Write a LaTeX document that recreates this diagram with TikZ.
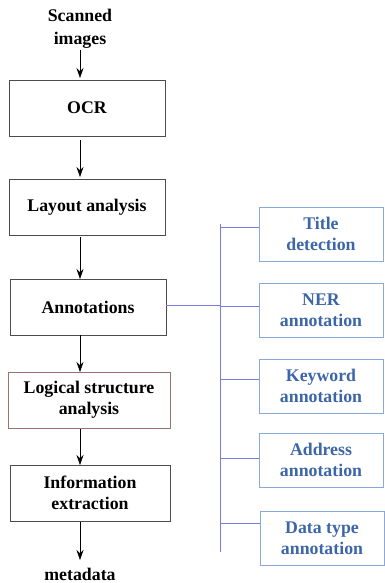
\documentclass[tikz,border=0pt]{standalone}
\usepackage{fontspec}
\setmainfont{Liberation Serif}
\usetikzlibrary{arrows.meta}

\definecolor{boxblue}{HTML}{8AA8D8}
\definecolor{textblue}{HTML}{3C66A8}
\definecolor{lineblue}{HTML}{7B7BE8}
\definecolor{boxbrown}{HTML}{9A7272}

\begin{document}
\begin{tikzpicture}[x=1pt,y=-1pt,
  stage/.style={draw=black!70, line width=0.8pt, minimum width=156pt, minimum height=56pt,
    align=center, font=\fontsize{17.8}{21}\selectfont\bfseries},
  task/.style={draw=boxblue, line width=0.8pt, minimum width=124pt, minimum height=54pt,
    align=center, text=textblue, font=\fontsize{17.8}{21}\selectfont\bfseries},
  plain/.style={align=center, font=\fontsize{17.8}{23}\selectfont\bfseries},
  flow/.style={-{Stealth[length=10pt,width=7pt]}, line width=0.6pt},
  branch/.style={draw=lineblue, line width=0.6pt}]
  \useasboundingbox (0,0) rectangle (384,583);
  % pipeline on the left
  \node[plain] (scan) at (80,29) {Scanned\\images};
  \node[stage] (ocr) at (87,108) {OCR};
  \node[stage] (layout) at (87,207) {Layout analysis};
  \node[stage] (annot) at (88,307) {Annotations};
  \node[stage, draw=boxbrown, minimum width=162pt] (logic) at (89,400) {Logical structure\\analysis};
  \node[stage, minimum width=160pt] (info) at (90,493) {Information\\extraction};
  \node[plain] (meta) at (80,574) {metadata};
  % arrows between the stages
  \draw[flow] (80,50) -- (80,78);
  \draw[flow] (80,140) -- (80,177);
  \draw[flow] (80,237) -- (80,279);
  \draw[flow] (80,335) -- (80,372);
  \draw[flow] (80,429) -- (80,465);
  \draw[flow] (80,522) -- (80,560);
  % annotation tasks on the right
  \node[task] (title) at (321,234) {Title\\detection};
  \node[task] (ner) at (321,310) {NER\\annotation};
  \node[task] (keyword) at (321,386) {Keyword\\annotation};
  \node[task] (address) at (321,460) {Address\\annotation};
  \node[task] (dtype) at (322,538) {Data type\\annotation};
  % tree of lines from the annotations box
  \coordinate (top) at (220,224);
  \coordinate (bottom) at (220,552);
  \draw[branch] (top) -- (bottom);
  \draw[branch] (annot.east |- 0,305) -- (220,305);
  \draw[branch] (220,227) -- (title.west |- 0,227);
  \draw[branch] (220,306) -- (ner.west |- 0,306);
  \draw[branch] (220,379) -- (keyword.west |- 0,379);
  \draw[branch] (220,458) -- (address.west |- 0,458);
  \draw[branch] (220,523) -- (dtype.west |- 0,523);
\end{tikzpicture}
\end{document}
